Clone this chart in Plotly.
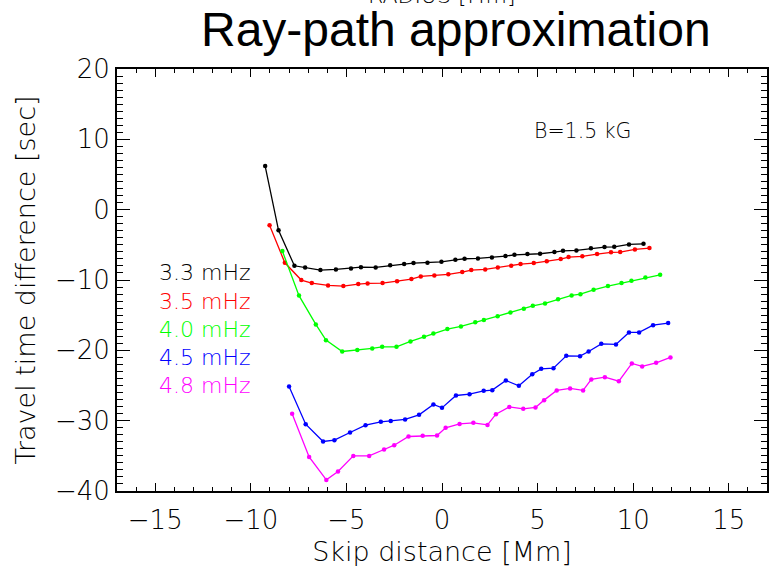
import plotly.graph_objects as go

# Travel time difference vs. skip distance for five frequencies (B = 1.5 kG)
x_33 = [-9.25, -8.55, -7.72, -7.16, -6.36, -5.55, -4.76, -4.24, -3.47, -2.71, -1.98, -1.49,
        -0.76, -0.03, 0.70, 1.18, 1.88, 2.61, 3.32, 3.79, 4.47, 5.13, 5.88, 6.33, 7.03,
        7.79, 8.50, 9.01, 9.78, 10.54]
y_33 = [6.2, -2.94, -7.98, -8.21, -8.59, -8.49, -8.35, -8.17, -8.21, -7.92, -7.74, -7.60,
        -7.55, -7.41, -7.13, -6.98, -6.93, -6.79, -6.60, -6.42, -6.32, -6.27, -6.03, -5.85,
        -5.79, -5.50, -5.32, -5.28, -4.94, -4.85]

x_35 = [-9.02, -8.22, -7.36, -6.81, -5.96, -5.16, -4.38, -3.89, -3.11, -2.35, -1.60, -1.11,
        -0.40, 0.33, 1.06, 1.53, 2.26, 2.92, 3.62, 4.11, 4.80, 5.48, 6.21, 6.62, 7.34,
        8.11, 8.84, 9.32, 10.09, 10.85]
y_35 = [-2.23, -7.55, -10.01, -10.44, -10.77, -10.87, -10.58, -10.48, -10.44, -10.16, -9.87,
        -9.49, -9.35, -9.20, -8.88, -8.59, -8.49, -8.21, -7.98, -7.74, -7.60, -7.35, -7.03,
        -6.74, -6.64, -6.32, -6.07, -6.03, -5.65, -5.46]

x_40 = [-8.35, -7.48, -6.60, -6.07, -5.22, -4.43, -3.65, -3.13, -2.38, -1.65, -0.94, -0.45,
        0.28, 0.99, 1.74, 2.19, 2.91, 3.58, 4.28, 4.75, 5.39, 6.07, 6.78, 7.24, 7.93,
        8.68, 9.39, 9.91, 10.64, 11.41]
y_40 = [-5.89, -12.22, -16.32, -18.55, -20.16, -19.97, -19.73, -19.50, -19.50, -18.73,
        -18.08, -17.60, -16.98, -16.60, -15.99, -15.70, -15.14, -14.61, -14.10, -13.67,
        -13.33, -12.72, -12.19, -12.01, -11.39, -10.87, -10.44, -10.11, -9.63, -9.26]

x_45 = [-8.00, -7.13, -6.22, -5.63, -4.81, -4.00, -3.20, -2.68, -1.93, -1.20, -0.45, 0.00,
        0.73, 1.44, 2.18, 2.63, 3.34, 4.02, 4.72, 5.19, 5.83, 6.50, 7.22, 7.67, 8.33,
        9.10, 9.78, 10.31, 11.04, 11.83]
y_45 = [-25.14, -30.50, -32.96, -32.77, -31.68, -30.64, -30.17, -30.03, -29.83, -29.17,
        -27.70, -28.18, -26.42, -26.23, -25.76, -25.66, -24.28, -25.05, -23.39, -22.63,
        -22.53, -20.78, -20.83, -20.16, -19.08, -19.16, -17.45, -17.45, -16.42, -16.13]

x_48 = [-7.84, -6.95, -6.05, -5.44, -4.64, -3.81, -3.03, -2.50, -1.75, -1.01, -0.26, 0.19,
        0.92, 1.64, 2.38, 2.82, 3.52, 4.25, 4.89, 5.34, 6.00, 6.70, 7.38, 7.81, 8.52,
        9.25, 9.93, 10.47, 11.20, 11.95]
y_48 = [-29.03, -35.15, -38.42, -37.23, -35.01, -35.01, -34.10, -33.49, -32.25, -32.16,
        -32.11, -31.02, -30.46, -30.31, -30.60, -29.08, -28.04, -28.32, -28.12, -27.08,
        -25.70, -25.42, -25.70, -24.14, -23.81, -24.38, -21.86, -22.29, -21.78, -21.01]

labels = ["3.3 mHz", "3.5 mHz", "4.0 mHz", "4.5 mHz", "4.8 mHz"]
colors = ["#000000", "#ff0000", "#00ff00", "#0000ff", "#ff00ff"]
label_y = [-9, -13, -17, -21, -25]
xs = [x_33, x_35, x_40, x_45, x_48]
ys = [y_33, y_35, y_40, y_45, y_48]

FONT = "DejaVu Sans"
tick_font = dict(family=FONT, size=26, color="black", weight=200)

fig = go.Figure()
for xv, yv, name, c in zip(xs, ys, labels, colors):
    fig.add_trace(go.Scatter(x=xv, y=yv, mode="lines+markers", name=name,
                             line=dict(color=c, width=1.3),
                             marker=dict(color=c, size=4.5)))

for name, c, ly in zip(labels, colors, label_y):
    fig.add_annotation(x=-14.93, y=ly, xref="x", yref="y", text=name, showarrow=False,
                       xanchor="left", yanchor="middle",
                       font=dict(family=FONT, size=22, color=c, weight=200))

fig.add_annotation(x=7.34, y=11.2, xref="x", yref="y", text="B=1.5 kG", showarrow=False,
                   xanchor="center", yanchor="middle",
                   font=dict(family=FONT, size=20.5, color="black", weight=200))

# main title and the clipped label above it
fig.add_annotation(x=0.521, y=1.0 + 11 / 422, xref="paper", yref="paper",
                   text="Ray-path approximation", showarrow=False,
                   xanchor="center", yanchor="bottom",
                   font=dict(family="Liberation Sans", size=48, color="black"))
fig.add_annotation(x=0.5, y=1.0 + 59 / 422, xref="paper", yref="paper",
                   text="RADIUS [Mm]", showarrow=False,
                   xanchor="center", yanchor="bottom",
                   font=dict(family=FONT, size=22, color="black", weight=200))

axis_common = dict(showgrid=False, zeroline=False, showline=True, linecolor="black",
                   linewidth=1.8, mirror="ticks", ticks="inside", tickcolor="black",
                   tickwidth=1.3, tickfont=tick_font)

fig.update_xaxes(range=[-17, 17], dtick=5, tick0=0, ticklen=8.5, ticklabelstandoff=5,
                 minor=dict(dtick=1, ticklen=4.5, ticks="inside", tickcolor="black",
                            tickwidth=1.1),
                 title=dict(text="Skip distance [Mm]", standoff=8,
                            font=dict(family=FONT, size=27, color="black", weight=200)),
                 **axis_common)
fig.update_yaxes(range=[-40, 20], dtick=10, tick0=0, ticklen=13,
                 minor=dict(dtick=1, ticklen=6.5, ticks="inside", tickcolor="black",
                            tickwidth=1.1),
                 title=dict(text="Travel time difference [sec]", standoff=12,
                            font=dict(family=FONT, size=27, color="black", weight=200)),
                 **axis_common)

fig.update_layout(width=778, height=577, showlegend=False,
                  margin=dict(l=117, r=9, t=69, b=86),
                  paper_bgcolor="white", plot_bgcolor="white")

fig.write_html("out.html")
